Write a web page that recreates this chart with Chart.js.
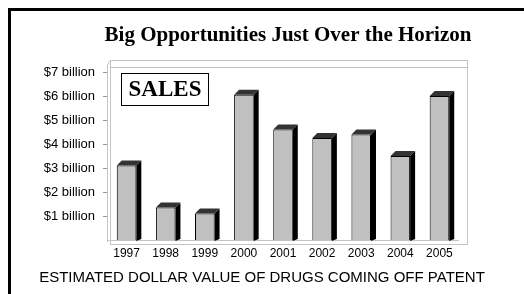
<!DOCTYPE html>
<html>
<head>
<meta charset="utf-8">
<script src="https://cdn.jsdelivr.net/npm/chart.js@4.4.1/dist/chart.umd.min.js"></script>
<style>
  html, body { margin: 0; padding: 0; background: #fff; }
  #wrap { width: 524px; height: 294px; position: relative; }
</style>
</head>
<body>
<div id="wrap"><canvas id="myChart" width="524" height="294"></canvas></div>
<script>
// data
const years = ['1997', '1998', '1999', '2000', '2001', '2002', '2003', '2004', '2005'];
const sales = [3.1, 1.35, 1.1, 6.05, 4.6, 4.25, 4.4, 3.5, 6.0];   // $ billion
const tickValues = [1, 2, 3, 4, 5, 6, 7];
const tickLabels = ['$1 billion', '$2 billion', '$3 billion', '$4 billion', '$5 billion', '$6 billion', '$7 billion'];
const chartTitle = 'Big Opportunities Just Over the Horizon';

// frame, 3d bars, title (sits right of centre) and the SALES box
const decoPlugin = {
    id: 'deco',
    beforeDraw(chart) {
        const c = chart.ctx;
        const a = chart.chartArea;
        c.save();
        c.fillStyle = '#fff';
        c.fillRect(0, 0, chart.width, chart.height);
        // outer border (top + left)
        c.fillStyle = '#000';
        c.fillRect(8, 8, chart.width - 8, 3);
        c.fillRect(8, 8, 3, chart.height - 8);
        // faint perspective box
        c.strokeStyle = '#c4c4c4';
        c.lineWidth = 1;
        c.strokeRect(a.left + 3.5, a.top + 0.5, a.right - a.left + 5, a.bottom - a.top + 4);
        c.beginPath();
        c.moveTo(a.left + 3, a.top + 7.5);
        c.lineTo(a.right + 8, a.top + 7.5);
        c.moveTo(a.left + 0.5, a.top + 5);
        c.lineTo(a.left + 0.5, a.bottom + 2);
        c.moveTo(a.left + 0.5, a.top + 5);
        c.lineTo(a.left + 3.5, a.top + 0.5);
        c.moveTo(a.left, a.bottom + 0.5);
        c.lineTo(a.right, a.bottom + 0.5);
        c.stroke();
        // title
        c.fillStyle = '#000';
        c.font = 'bold 21px "Liberation Serif", "Times New Roman", serif';
        c.textAlign = 'center';
        c.textBaseline = 'middle';
        c.fillText(chartTitle, 288, 36);
        c.restore();
    },
    beforeDatasetsDraw(chart) {
        const c = chart.ctx;
        const d = 5;
        c.save();
        chart.getDatasetMeta(0).data.forEach(bar => {
            const l = bar.x - bar.width / 2;
            const r = bar.x + bar.width / 2;
            const t = bar.y;
            const b = bar.base;
            // side shadow
            c.fillStyle = '#000';
            c.beginPath();
            c.moveTo(r, t);
            c.lineTo(r + d, t - d);
            c.lineTo(r + d, b - 1);
            c.lineTo(r, b + 1);
            c.closePath();
            c.fill();
            // top face
            c.fillStyle = '#333';
            c.beginPath();
            c.moveTo(l, t);
            c.lineTo(l + d, t - d);
            c.lineTo(r + d, t - d);
            c.lineTo(r, t);
            c.closePath();
            c.fill();
        });
        c.restore();
    },
    afterDraw(chart) {
        const c = chart.ctx;
        c.save();
        c.fillStyle = '#fff';
        c.fillRect(121, 73, 87, 32);
        c.strokeStyle = '#000';
        c.lineWidth = 1;
        c.strokeRect(121.5, 73.5, 87, 32);
        c.fillStyle = '#000';
        c.font = 'bold 23px "Liberation Serif", "Times New Roman", serif';
        c.textAlign = 'center';
        c.textBaseline = 'middle';
        c.fillText('SALES', 165, 90);
        c.restore();
    }
};

const ctx = document.getElementById('myChart').getContext('2d');
const myChart = new Chart(ctx, {
    type: 'bar',
    data: {
        labels: years,
        datasets: [{
            data: sales,
            backgroundColor: '#c0c0c0',
            borderColor: '#000',
            borderWidth: 1,
            barPercentage: 0.5,
            categoryPercentage: 1
        }]
    },
    options: {
        responsive: false,
        animation: false,
        layout: { padding: { top: 60, left: 0, right: 0, bottom: 0 } },
        plugins: {
            legend: { display: false },
            tooltip: { enabled: false },
            title: { display: false },
            subtitle: {
                display: true,
                position: 'bottom',
                text: 'ESTIMATED DOLLAR VALUE OF DRUGS COMING OFF PATENT',
                color: '#000',
                font: { family: '"Liberation Sans", Arial, sans-serif', size: 15, lineHeight: 1.2 },
                padding: { top: 5, bottom: 7 }
            }
        },
        scales: {
            x: {
                grid: { display: false },
                border: { display: false },
                ticks: {
                    color: '#000',
                    font: { family: '"Liberation Sans", Arial, sans-serif', size: 12 },
                    padding: -2,
                    maxRotation: 0,
                    autoSkip: false
                },
                afterFit(scale) { scale.height = 24; }
            },
            y: {
                min: 0,
                max: 7.5,
                afterBuildTicks(scale) {
                    scale.ticks = tickValues.map(v => ({ value: v }));
                },
                ticks: {
                    color: '#000',
                    font: { family: '"Liberation Sans", Arial, sans-serif', size: 13 },
                    padding: 8,
                    callback: (v) => tickLabels[tickValues.indexOf(v)]
                },
                grid: { drawOnChartArea: false, tickLength: 4, color: '#999' },
                border: { display: false },
                afterFit(scale) { scale.width = 107; }
            },
            // empty axis that keeps the margin on the right
            yRight: {
                position: 'right',
                grid: { display: false },
                border: { display: false },
                ticks: { display: false },
                afterFit(scale) { scale.width = 65; }
            }
        }
    },
    plugins: [decoPlugin]
});
</script>
</body>
</html>
